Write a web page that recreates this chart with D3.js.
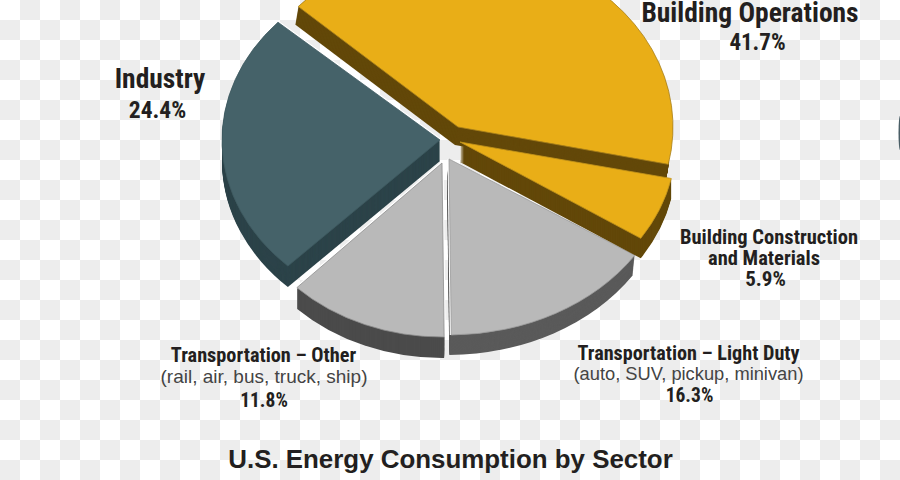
<!DOCTYPE html>
<html><head><meta charset="utf-8">
<script src="https://cdn.jsdelivr.net/npm/d3@7"></script>
<style>html,body{margin:0;padding:0;background:#fff}svg{display:block}</style>
</head><body><svg id="c" width="900" height="480"></svg>
<script>
// data
const sectors = ["Building Operations","Building Construction and Materials","Transportation – Light Duty","Transportation – Other","Industry"];
const shares = [41.7,5.9,16.3,11.8,24.4];
const shareLabels = ["41.7%","5.9%","16.3%","11.8%","24.4%"];
const title = "U.S. Energy Consumption by Sector";
// styling
const topColors = ["#E9AE17","#E9AE17","#B9B9B9","#B9B9B9","#456269"];
const edgeColors = ["#A8801C","#C2931C","#9A9A9A","#8E8E8E","#3F5A61"];
const sideColors = ["#634809","#634809","#5A5A5A","#4B4B4B","#2C4349"];
const W=900,H=480,cell=20,rad=Math.PI/180;
const svg=d3.select("#c");
// checker background
const cols=d3.range(W/cell), rows=d3.range(H/cell);
svg.append("g").selectAll("rect").data(d3.cross(cols,rows).filter(([i,j])=>(i+j)%2==1)).join("rect")
 .attr("x",d=>d[0]*cell).attr("y",d=>d[1]*cell).attr("width",cell).attr("height",cell).attr("fill","#EDEDED");
// pie layout: exploded, tilted slices
const pie=d3.pie().sort(null).value(d=>d).startAngle(-48*rad).endAngle(312*rad);
const arcs=pie(shares);
const radiusX=[215,216,222,208,218], radiusY=[180,176,176,174,176];
const apexX=[458,460,449,442,440], apexY=[127,142,159,163,140];
const depth=[18,20,20,21,21];
const sideLean=[-0.17,0,-0.1,0,0];
const startTrim=[0,0,0,-2.4,0], endTrim=[0,0,-2.4,0,0];
const seamStart=[false,false,false,true,false], seamEnd=[false,false,true,true,true];
const order=[0,4,3,2,1];
const g=svg.append("g");
const defs=svg.append("defs");
order.forEach(i=>{
  const a0=arcs[i].startAngle+startTrim[i]*rad, a1=arcs[i].endAngle+endTrim[i]*rad, r=radiusX[i];
  const d=d3.arc().innerRadius(0).outerRadius(r).startAngle(a0).endAngle(a1)();
  const sy=radiusY[i]/r, tf=(dx,dy)=>`translate(${apexX[i]+dx},${apexY[i]+dy}) scale(1,${sy})`;
  const s=g.append("g");
  const side=s.append("g");
  if(i===0){ // the big slice shows no wall along its rim
    defs.append("clipPath").attr("id","noRim").append("rect").attr("x",0).attr("y",0)
      .attr("width",apexX[i]+r*Math.sin(a1)).attr("height",H);
    side.attr("clip-path","url(#noRim)");
  }
  side.selectAll("path").data(d3.range(depth[i],0,-1)).join("path")
   .attr("transform",k=>tf(k*sideLean[i],k)).attr("d",d).attr("fill",sideColors[i]);
  // white seam along the straight edges that have one
  const seam=(a)=>s.append("path").attr("transform",tf(0,0))
     .attr("d",d3.lineRadial()([[a,r],[a,0]])).attr("fill","none")
     .attr("stroke","#fff").attr("stroke-width",3).attr("vector-effect","non-scaling-stroke");
  if(seamStart[i]) seam(a0);
  if(seamEnd[i]) seam(a1);
  s.append("path").attr("transform",tf(0,0)).attr("d",d).attr("fill",topColors[i])
   .attr("stroke",edgeColors[i]).attr("stroke-width",0.8).attr("vector-effect","non-scaling-stroke");
});
// stray sliver at the right edge of the picture
svg.append("ellipse").attr("cx",900).attr("cy",133).attr("rx",1.5).attr("ry",17).attr("fill","#4A5E66");
// labels
const ink="#231F20";
const bold=(t,x,y,fs)=>svg.append("text").attr("x",x).attr("y",y).attr("text-anchor","middle")
  .attr("font-family","'Liberation Sans Narrow','Roboto Condensed',sans-serif").attr("font-weight",700).attr("font-size",fs).attr("fill",ink).text(t);
const light=(t,x,y,fs)=>svg.append("text").attr("x",x).attr("y",y).attr("text-anchor","middle")
  .attr("font-family","'Liberation Sans',sans-serif").attr("font-size",fs).attr("fill","#444").text(t);
bold(sectors[0],750,22,27.5); bold(shareLabels[0],757.5,50,23);
bold(sectors[4],160,88,27.5); bold(shareLabels[4],157.5,118,23.5);
bold("Building Construction",769,244,20.5); bold("and Materials",764,265,20.5); bold(shareLabels[1],765.5,286,21);
bold(sectors[2],688.5,360,20.2); light("(auto, SUV, pickup, minivan)",688.5,380,18.3); bold(shareLabels[2],689.5,402,19.5);
bold(sectors[3],263.5,362,20.3); light("(rail, air, bus, truck, ship)",264,383,19); bold(shareLabels[3],264,407,19.5);
svg.append("text").attr("x",450.5).attr("y",468).attr("text-anchor","middle").attr("font-family","'Liberation Sans',sans-serif")
 .attr("font-weight",700).attr("font-size",25.9).attr("fill",ink).text(title);
</script></body></html>
